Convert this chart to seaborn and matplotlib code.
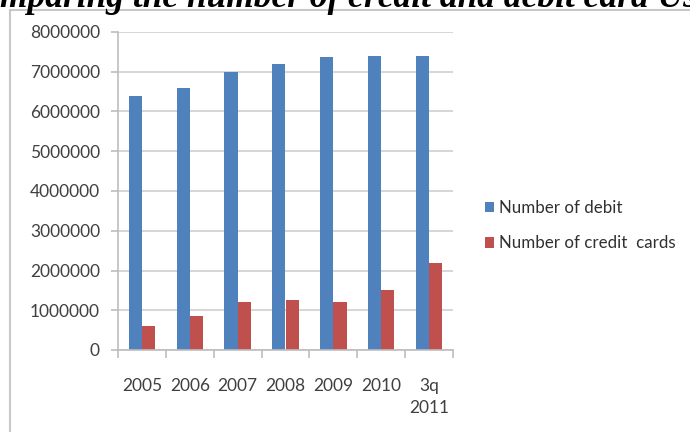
import matplotlib
matplotlib.use("Agg")
import matplotlib.pyplot as plt
import seaborn as sns
import pandas as pd
import numpy as np
from matplotlib.patches import Patch
from matplotlib.lines import Line2D

categories = ["2005", "2006", "2007", "2008", "2009", "2010", "3q\n2011"]
debit_cards = [6400000, 6600000, 7000000, 7200000, 7380000, 7400000, 7400000]
credit_cards = [600000, 860000, 1210000, 1260000, 1210000, 1520000, 2200000]
series_names = ["Number of debit", "Number of credit  cards"]
y_ticks = [0, 1000000, 2000000, 3000000, 4000000, 5000000, 6000000, 7000000, 8000000]
title_text = "mparing the number of credit and debit card Use"

colors = ["#4F81BD", "#C0504D"]

df = pd.DataFrame({
    "category": categories * 2,
    "value": debit_cards + credit_cards,
    "series": [series_names[0]] * len(categories) + [series_names[1]] * len(categories),
})

sns.set_theme(style="white")
plt.rcParams["font.family"] = ["Lato", "DejaVu Sans"]

fig = plt.figure(figsize=(6.9, 4.32), dpi=100)
ax = fig.add_axes([118 / 690, 82 / 432, (453 - 118) / 690, (350 - 32) / 432])

sns.barplot(data=df, x="category", y="value", hue="series", order=categories,
            hue_order=series_names, palette=colors, width=0.55, saturation=1,
            ax=ax, legend=False, linewidth=0, errorbar=None)

ax.set_ylim(0, 8000000)
ax.set_xlim(-0.5, len(categories) - 0.5)
ax.set_yticks(y_ticks)
ax.set_yticklabels([str(v) for v in y_ticks])
ax.set_xlabel("")
ax.set_ylabel("")
ax.yaxis.grid(True, color="#D0D0D0", linewidth=1.2)
ax.set_axisbelow(True)
for s in ["top", "right"]:
    ax.spines[s].set_visible(False)
ax.spines["left"].set_color("#BDBDBD")
ax.spines["bottom"].set_color("#BDBDBD")
ax.spines["left"].set_linewidth(1.2)
ax.spines["bottom"].set_linewidth(1.2)

ax.tick_params(axis="y", which="major", length=5, color="#BDBDBD", width=1.2,
               labelsize=12.5, labelcolor="#404040", pad=8, left=True)
ax.tick_params(axis="x", which="major", length=0, labelsize=12.5, labelcolor="#404040",
               pad=20, labelrotation=0)
for lbl in ax.get_xticklabels():
    lbl.set_linespacing(1.5)
ax.set_xticks(np.arange(-0.5, len(categories), 1.0), minor=True)
ax.tick_params(axis="x", which="minor", length=6, color="#BDBDBD", width=1.2, bottom=True)

handles = [Patch(facecolor=c, edgecolor="none") for c in colors]
fig.legend(handles, series_names, loc="upper left", bbox_to_anchor=(485 / 690, 1 - 200 / 432),
           frameon=False, fontsize=12.2, handlelength=0.55, handleheight=0.55,
           handletextpad=0.3, labelspacing=1.15, labelcolor="#303030",
           borderpad=0, borderaxespad=0)

# outer chart border lines
fig.add_artist(Line2D([10 / 690, 10 / 690], [0, 1 - 10 / 432], color="#C8C8C8", linewidth=1.5,
                      transform=fig.transFigure))
fig.add_artist(Line2D([10 / 690, 1], [1 - 10 / 432, 1 - 10 / 432], color="#C8C8C8", linewidth=1.5,
                      transform=fig.transFigure))

fig.text(0.0, 1 - 7 / 432, title_text, fontsize=25.5, fontweight="bold", fontstyle="italic",
         family=["Liberation Serif", "DejaVu Serif"], ha="left", va="baseline", color="black")

fig.savefig("out.png", dpi=100)
